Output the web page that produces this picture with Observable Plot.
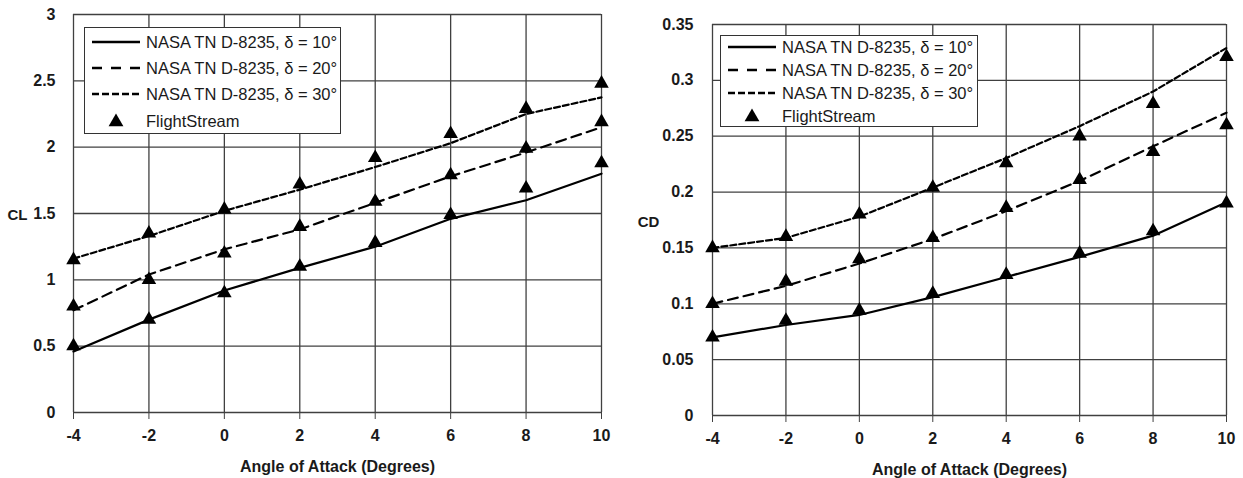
<!DOCTYPE html>
<html><head><meta charset="utf-8">
<script src="https://cdn.jsdelivr.net/npm/d3@7"></script>
<script src="https://cdn.jsdelivr.net/npm/@observablehq/plot@0.6"></script>
<style>
body{margin:0;background:#fff;}
#wrap{position:relative;width:1243px;height:478px;overflow:hidden;font-family:"Liberation Sans",Arial,sans-serif;background:#fff;}
.panel{position:absolute;top:0;}
.legend{position:absolute;background:#fff;border:1.5px solid #333;box-sizing:border-box;}
.legend .lbl{position:absolute;font-size:16.5px;color:#1a1a1a;white-space:nowrap;line-height:20px;}
</style></head><body><div id="wrap"></div>
<script>
// ---- data ----
const aoa = [-4, -2, 0, 2, 4, 6, 8, 10];
const xTicks = [-4, -2, 0, 2, 4, 6, 8, 10];
const yTicksCL = [0, 0.5, 1, 1.5, 2, 2.5, 3];
const yTicksCD = [0, 0.05, 0.1, 0.15, 0.2, 0.25, 0.3, 0.35];
const seriesNames = ["NASA TN D-8235, δ = 10°", "NASA TN D-8235, δ = 20°", "NASA TN D-8235, δ = 30°", "FlightStream"];
const xTitle = "Angle of Attack (Degrees)";

const nasaCL10 = [0.46, 0.70, 0.92, 1.09, 1.25, 1.46, 1.60, 1.80];
const nasaCL20 = [0.77, 1.04, 1.23, 1.38, 1.58, 1.78, 1.96, 2.15];
const nasaCL30 = [1.16, 1.33, 1.52, 1.68, 1.85, 2.03, 2.25, 2.375];
const fsCL10 = [0.50, 0.70, 0.90, 1.10, 1.28, 1.49, 1.69, 1.88];
const fsCL20 = [0.80, 1.00, 1.20, 1.40, 1.59, 1.79, 1.99, 2.19];
const fsCL30 = [1.15, 1.35, 1.53, 1.72, 1.92, 2.10, 2.29, 2.48];

const nasaCD10 = [0.070, 0.081, 0.090, 0.106, 0.124, 0.142, 0.161, 0.191];
const nasaCD20 = [0.100, 0.116, 0.136, 0.158, 0.183, 0.210, 0.241, 0.271];
const nasaCD30 = [0.150, 0.159, 0.178, 0.204, 0.2305, 0.259, 0.290, 0.329];
const fsCD10 = [0.070, 0.085, 0.094, 0.109, 0.126, 0.145, 0.165, 0.190];
const fsCD20 = [0.100, 0.120, 0.140, 0.159, 0.186, 0.211, 0.236, 0.260];
const fsCD30 = [0.150, 0.160, 0.180, 0.204, 0.226, 0.250, 0.279, 0.321];

// ---- styles ----
const dashes = [null, "10,6", "6,3"];
const gridColor = "#404040";
const textColor = "#1a1a1a";
const fontFam = '"Liberation Sans", Arial, sans-serif';

function rows(arr) { return aoa.map((a, i) => ({a, v: arr[i]})); }

function chart(cfg) {
  const lineMarks = cfg.nasa.map((arr, i) => Plot.line(rows(arr), {
    x: "a", y: "v", stroke: "black", strokeWidth: 2.2,
    strokeDasharray: dashes[i] || undefined
  }));
  const dotMarks = cfg.fs.map(arr => Plot.dot(rows(arr), {
    x: "a", y: "v", symbol: "triangle", r: 5.4, fill: "black", stroke: "none"
  }));
  return Plot.plot({
    width: cfg.width, height: 478,
    marginLeft: cfg.ml, marginRight: cfg.mr, marginTop: cfg.mt, marginBottom: cfg.mb,
    style: {fontFamily: fontFam, fontSize: "16px", fontWeight: "bold", color: textColor, background: "white", overflow: "visible"},
    x: {domain: [-4, 10], label: null},
    y: {domain: [0, cfg.ymax], label: null},
    marks: [
      Plot.gridX(xTicks, {stroke: gridColor, strokeOpacity: 1, strokeWidth: 1.3}),
      Plot.gridY(cfg.yTicks, {stroke: gridColor, strokeOpacity: 1, strokeWidth: 1.3}),
      Plot.axisX(xTicks, {tickSize: 7, tickPadding: 10, stroke: gridColor, fill: textColor, fontSize: 16, fontWeight: "bold", tickFormat: d => String(d), label: null}),
      Plot.axisY(cfg.yTicks, {tickSize: 0, tickPadding: cfg.tp, fill: textColor, fontSize: 16, fontWeight: "bold", tickFormat: d => String(d), label: null}),
      ...lineMarks,
      ...dotMarks,
      Plot.text([cfg.ylabel], {frameAnchor: "left", textAnchor: "middle", dx: cfg.ylDx, dy: cfg.ylDy, text: d => d, fontSize: 15, fontWeight: "bold", fill: textColor}),
      Plot.text([xTitle], {frameAnchor: "bottom", textAnchor: "middle", lineAnchor: "middle", dy: 54, text: d => d, fontSize: 16, fontWeight: "bold", fill: textColor})
    ]
  });
}

function legend(box) {
  const div = document.createElement("div");
  div.className = "legend";
  Object.assign(div.style, {left: box.left + "px", top: box.top + "px", width: box.w + "px", height: box.h + "px"});
  seriesNames.forEach((name, i) => {
    const cy = box.row0 + i * box.step;
    const svgNS = "http://www.w3.org/2000/svg";
    const svg = document.createElementNS(svgNS, "svg");
    svg.setAttribute("width", 52); svg.setAttribute("height", 16);
    Object.assign(svg.style, {position: "absolute", left: "6px", top: (cy - 8) + "px"});
    if (i < 3) {
      const l = document.createElementNS(svgNS, "line");
      l.setAttribute("x1", 1); l.setAttribute("x2", 49); l.setAttribute("y1", 8); l.setAttribute("y2", 8);
      l.setAttribute("stroke", "black"); l.setAttribute("stroke-width", 2.4);
      if (i === 1) l.setAttribute("stroke-dasharray", "10,9");
      if (i === 2) l.setAttribute("stroke-dasharray", "7,3");
      svg.appendChild(l);
    } else {
      const p = document.createElementNS(svgNS, "path");
      p.setAttribute("d", d3.symbol(d3.symbolTriangle, 95)());
      p.setAttribute("transform", "translate(25,9)");
      p.setAttribute("fill", "black");
      svg.appendChild(p);
    }
    div.appendChild(svg);
    const t = document.createElement("div");
    t.className = "lbl";
    t.textContent = name;
    Object.assign(t.style, {left: "61px", top: (cy - 10) + "px"});
    div.appendChild(t);
  });
  return div;
}

const wrap = document.getElementById("wrap");

const left = chart({width: 620, ml: 73, mr: 19, mt: 14, mb: 66, ymax: 3, yTicks: yTicksCL, tp: 18,
  nasa: [nasaCL10, nasaCL20, nasaCL30], fs: [fsCL10, fsCL20, fsCL30], ylabel: "CL", ylDx: -56, ylDy: 2});
left.classList.add("panel"); left.style.left = "0px";
wrap.appendChild(left);

const right = chart({width: 623, ml: 92, mr: 17, mt: 24, mb: 63, ymax: 0.35, yTicks: yTicksCD, tp: 19,
  nasa: [nasaCD10, nasaCD20, nasaCD30], fs: [fsCD10, fsCD20, fsCD30], ylabel: "CD", ylDx: -64, ylDy: 2});
right.classList.add("panel"); right.style.left = "620px";
wrap.appendChild(right);

wrap.appendChild(legend({left: 84, top: 27, w: 257, h: 107, row0: 14, step: 26.2}));
wrap.appendChild(legend({left: 720, top: 35, w: 258, h: 92, row0: 11, step: 23}));
</script>
</body></html>
